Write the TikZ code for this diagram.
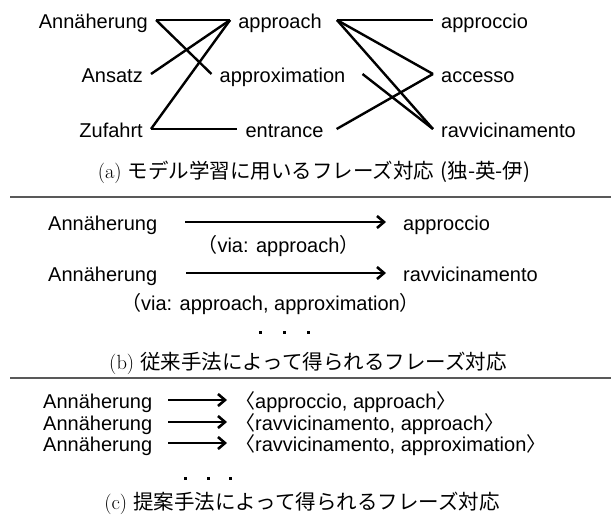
\documentclass[tikz,border=0pt]{standalone}
\usepackage{fontspec}
\usetikzlibrary{arrows.meta}
\newfontfamily\labelfont{Liberation Sans}
\newfontfamily\jpfont{Noto Sans CJK JP}
\newcommand{\jlp}{{\jpfont （}}
\newcommand{\jrp}{{\jpfont ）}}
\newcommand{\jla}{{\jpfont 〈}}
\newcommand{\jra}{{\jpfont 〉}}

\begin{document}
\begin{tikzpicture}[x=1pt, y=-1pt,
			word/.style={font=\labelfont\fontsize{20}{24}\selectfont, inner xsep=8pt, inner ysep=0pt, text height=16pt, text depth=0pt},
			link/.style={line width=2.4pt},
			map/.style={-{Straight Barb[length=7pt, width=12pt, line width=2.6pt]}, line width=2.5pt},
			caption/.style={font=\fontsize{20.5}{24}\selectfont, inner sep=0pt},
			rule/.style={line width=1.2pt, black!65}]
			
			\useasboundingbox (0,0) rectangle (612,528);
			
			% (a) Nodi su tre colonne
			\node[word, anchor=east] (ann) at (156,20) {Annäherung};
			\node[word, anchor=east] (ans) at (151,74) {Ansatz};
			\node[word, anchor=east] (zuf) at (151,129) {Zufahrt};
			
			\node[word] (appr) at (280,20) {approach};
			\node[word] (approx) at (282.5,74) {approximation};
			\node[word] (ent) at (284.5,129) {entrance};
			
			\node[word, anchor=west] (appc) at (433,20) {approccio};
			\node[word, anchor=west] (acc) at (433,74) {accesso};
			\node[word, anchor=west] (rav) at (433,129) {ravvicinamento};
			
			% Da de a en
			\draw[link] (ann.east) -- (appr.west);
			\draw[link] (ann.east) -- (approx.west);
			\draw[link] (ans.east) -- (appr.west);
			\draw[link] (zuf.east) -- (appr.west);
			\draw[link] (zuf.east) -- (ent.west);
			
			% Da en a it
			\draw[link] ([xshift=7pt]appr.east) -- (appc.west);
			\draw[link] ([xshift=7pt]appr.east) -- (acc.west);
			\draw[link] ([xshift=7pt]appr.east) -- (rav.west);
			\draw[link] ([xshift=9pt]approx.east) -- (rav.west);
			\draw[link] ([xshift=5pt]ent.east) -- (acc.west);
			
			\node[caption] (capa) at (314,172) {(a) {\jpfont モデル学習に用いるフレーズ対応} {\jpfont (独-英-伊)}};
			
			\draw[rule] (10,197) -- (611,197);
			
			% (b)
			\node[word, anchor=west] (b1src) at (40,222) {Annäherung};
			\node[word, anchor=west] (b1tgt) at (395,222) {approccio};
			\node[word] (via1) at (278.5,244) {\jlp via: approach\jrp};
			\node[word, anchor=west] (b2src) at (40,273) {Annäherung};
			\node[word, anchor=west] (b2tgt) at (395,273) {ravvicinamento};
			\node[word] (via2) at (270.5,302) {\jlp via: approach, approximation\jrp};
			
			\draw[map, shorten <=20pt, shorten >=9pt] (b1src.east) -- (b1tgt.west);
			\draw[map, shorten <=21pt, shorten >=9pt] (b2src.east) -- (b2tgt.west);
			
			\foreach \x in {260,284,308}
				\fill (\x-1.5,330.5) rectangle ++(3,3);
			
			\node[caption] (capb) at (308,363) {(b) {\jpfont 従来手法によって得られるフレーズ対応}};
			
			\draw[rule] (10,378) -- (611,378);
			
			% (c)
			\node[word, anchor=west] (c1src) at (35,400) {Annäherung};
			\node[word, anchor=west] (c1tgt) at (227,400) {\jla approccio, approach\jra};
			\node[word, anchor=west] (c2src) at (35,422) {Annäherung};
			\node[word, anchor=west] (c2tgt) at (227,422) {\jla ravvicinamento, approach\jra};
			\node[word, anchor=west] (c3src) at (35,443) {Annäherung};
			\node[word, anchor=west] (c3tgt) at (227,443) {\jla ravvicinamento, approximation\jra};
			
			\draw[map, shorten <=8pt] (c1src.east) -- (c1tgt.west);
			\draw[map, shorten <=8pt] (c2src.east) -- (c2tgt.west);
			\draw[map, shorten <=8pt] (c3src.east) -- (c3tgt.west);
			
			\foreach \x in {185,208,230}
				\fill (\x-1.5,476.5) rectangle ++(3,3);
			
			\node[caption] (capc) at (302,503) {(c) {\jpfont 提案手法によって得られるフレーズ対応}};
			
		\end{tikzpicture}
\end{document}
